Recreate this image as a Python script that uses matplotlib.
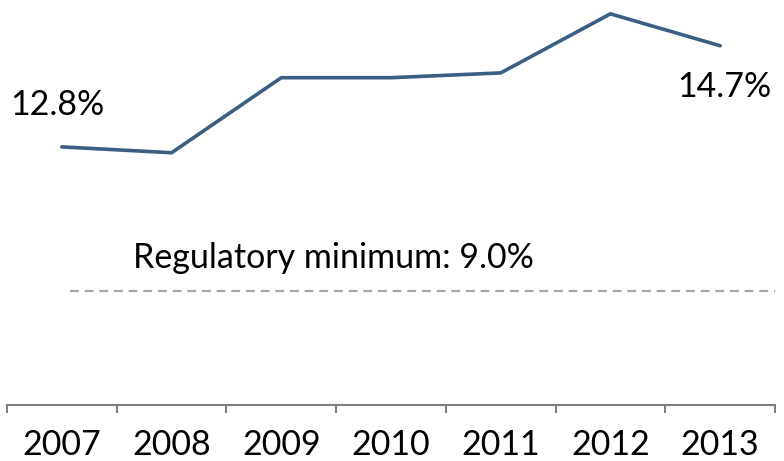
import matplotlib.pyplot as plt

years = ['2007', '2008', '2009', '2010', '2011', '2012', '2013']
ratio = [12.8, 12.69, 14.1, 14.1, 14.19, 15.3, 14.7]
reg_min = 9.0
# the original chart does not draw the minimum line to scale
reg_line_level = 10.09

plt.rcParams['font.family'] = ['Lato', 'DejaVu Sans']

fig = plt.figure(figsize=(7.84, 4.61), dpi=100)
ax = fig.add_axes([7 / 784, 56 / 461, 768 / 784, 405 / 461])

x = list(range(len(years)))
ax.plot(x, ratio, color='#3B5E82', linewidth=2.6, solid_capstyle='round', solid_joinstyle='miter')

ax.axhline(reg_line_level, xmin=63 / 768, xmax=1, color='#A6A6A6',
           linewidth=1.6, dashes=(4, 2.6))
ax.annotate('Regulatory minimum: {:.1f}%'.format(reg_min), xy=(0.65, reg_line_level),
            xytext=(0, 24), textcoords='offset points', ha='left', va='center',
            fontsize=24.5)

ax.annotate('{:.1f}%'.format(ratio[0]), xy=(0, ratio[0]), xytext=(-3.6, 30),
            textcoords='offset points', ha='center', va='center', fontsize=24.5)
ax.annotate('{:.1f}%'.format(ratio[-1]), xy=(6, ratio[-1]), xytext=(2.9, -30),
            textcoords='offset points', ha='center', va='center', fontsize=24.5)

ax.set_xlim(-0.5, 6.5)
ax.set_ylim(7.95, 15.56)

for s in ['left', 'right', 'top']:
    ax.spines[s].set_visible(False)
ax.spines['bottom'].set_color('#808080')
ax.spines['bottom'].set_linewidth(1.5)

ax.set_yticks([])
ax.set_xticks(x)
ax.set_xticklabels(years, fontsize=24.5)
ax.set_xticks([i - 0.5 for i in range(len(years) + 1)], minor=True)
ax.tick_params(axis='x', which='major', length=0, pad=17)
ax.tick_params(axis='x', which='minor', length=6, width=1.5, color='#808080')
ax.patch.set_alpha(0)

fig.savefig('out.png', dpi=100)
